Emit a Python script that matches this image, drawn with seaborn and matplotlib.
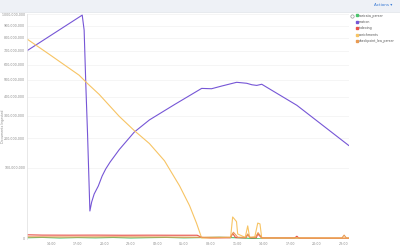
import numpy as np
import pandas as pd
import matplotlib
matplotlib.use("Agg")
import matplotlib.pyplot as plt
import matplotlib.dates as mdates
from matplotlib.lines import Line2D
from matplotlib.patches import Rectangle
from matplotlib.ticker import FuncFormatter, FixedLocator
import seaborn as sns

# ---------------- data ----------------
series_names = ["suricata_parser", "matron", "indexing", "enrichments", "checkpoint_lea_parser"]
series_colors = ["#4cc46e", "#7656d6", "#e8524a", "#f7c464", "#e99a52"]

matron_time = ["2021-03-01 11:17", "2021-03-01 17:31", "2021-03-01 17:44", "2021-03-01 17:56",
               "2021-03-01 18:07", "2021-03-01 18:23", "2021-03-01 18:35", "2021-03-01 18:52",
               "2021-03-01 19:20", "2021-03-01 19:46", "2021-03-01 20:10", "2021-03-01 20:40",
               "2021-03-01 21:10", "2021-03-01 21:42", "2021-03-01 23:24",
               "2021-03-02 01:06", "2021-03-02 03:56", "2021-03-02 07:00", "2021-03-02 08:07",
               "2021-03-02 09:15", "2021-03-02 10:57", "2021-03-02 12:05", "2021-03-02 12:40",
               "2021-03-02 13:13", "2021-03-02 13:47", "2021-03-02 17:45", "2021-03-02 23:38"]
matron_vals = [700e6, 990e6, 862e6, 454e6, 220e6, 15.5e6, 27e6, 40e6, 55.5e6, 78.4e6, 96.8e6,
               117e6, 136e6, 158e6, 226e6, 280e6, 357e6, 448e6, 446e6, 462e6, 485e6, 479e6,
               470e6, 466e6, 473e6, 353e6, 172e6]

enrich_time = ["2021-03-01 11:17", "2021-03-01 13:46", "2021-03-01 17:10", "2021-03-01 18:05",
               "2021-03-01 19:26", "2021-03-01 21:42", "2021-03-01 23:24", "2021-03-02 01:06",
               "2021-03-02 02:48", "2021-03-02 04:30", "2021-03-02 05:38", "2021-03-02 06:25",
               "2021-03-02 07:00", "2021-03-02 10:16", "2021-03-02 10:30", "2021-03-02 10:56",
               "2021-03-02 11:04", "2021-03-02 11:55", "2021-03-02 12:12", "2021-03-02 12:25",
               "2021-03-02 13:00", "2021-03-02 13:20", "2021-03-02 13:35", "2021-03-02 13:47",
               "2021-03-02 23:38"]
enrich_vals = [790e6, 675e6, 530e6, 479e6, 413e6, 297e6, 232e6, 180e6, 121e6, 56e6, 22e6, 5e6,
               0.02e6, 0.05e6, 9.6e6, 6e6, 0.5e6, 0.05e6, 3.4e6, 0.05e6, 0.1e6, 5e6, 4.5e6,
               0.02e6, 0.02e6]

indexing_time = ["2021-03-01 11:17", "2021-03-01 13:00", "2021-03-01 16:00", "2021-03-01 19:00",
                 "2021-03-01 22:00", "2021-03-02 01:00", "2021-03-02 04:00", "2021-03-02 06:30",
                 "2021-03-02 07:00", "2021-03-02 08:00", "2021-03-02 10:15", "2021-03-02 10:30",
                 "2021-03-02 10:50", "2021-03-02 12:00", "2021-03-02 12:12", "2021-03-02 12:30",
                 "2021-03-02 13:10", "2021-03-02 13:20", "2021-03-02 13:47", "2021-03-02 17:30",
                 "2021-03-02 17:45", "2021-03-02 18:00", "2021-03-02 23:38"]
indexing_vals = [350e3, 300e3, 290e3, 300e3, 280e3, 290e3, 280e3, 280e3, 50e3, 20e3, 30e3, 600e3,
                 40e3, 30e3, 400e3, 30e3, 30e3, 500e3, 20e3, 20e3, 150e3, 10e3, 10e3]

suricata_time = ["2021-03-01 11:17", "2021-03-01 13:00", "2021-03-01 15:00", "2021-03-01 17:00",
                 "2021-03-01 19:00", "2021-03-01 21:00", "2021-03-01 23:00", "2021-03-02 01:00",
                 "2021-03-02 03:00", "2021-03-02 05:00", "2021-03-02 07:00", "2021-03-02 09:00",
                 "2021-03-02 11:00", "2021-03-02 14:00", "2021-03-02 23:38"]
suricata_vals = [30e3, 50e3, 20e3, 40e3, 25e3, 45e3, 20e3, 35e3, 50e3, 25e3, 40e3, 60e3,
                 30e3, 0, 0]

checkpoint_time = ["2021-03-01 11:17", "2021-03-01 16:00", "2021-03-01 21:00", "2021-03-02 02:00",
                   "2021-03-02 07:00", "2021-03-02 10:16", "2021-03-02 10:35", "2021-03-02 11:04",
                   "2021-03-02 12:00", "2021-03-02 12:12", "2021-03-02 12:25", "2021-03-02 13:05",
                   "2021-03-02 13:22", "2021-03-02 13:47", "2021-03-02 22:50", "2021-03-02 23:05",
                   "2021-03-02 23:20", "2021-03-02 23:38"]
checkpoint_vals = [90e3, 80e3, 90e3, 80e3, 60e3, 60e3, 900e3, 60e3, 50e3, 500e3, 50e3, 50e3,
                   800e3, 30e3, 20e3, 300e3, 20e3, 20e3]

y_ticks = [0, 100e6, 200e6, 300e6, 400e6, 500e6, 600e6, 700e6, 800e6, 900e6, 1000e6]
y_label = "Documents Ingested"

# ---------------- frame ----------------
parts = []
for name, t, v in [("suricata_parser", suricata_time, suricata_vals),
                   ("matron", matron_time, matron_vals),
                   ("indexing", indexing_time, indexing_vals),
                   ("enrichments", enrich_time, enrich_vals),
                   ("checkpoint_lea_parser", checkpoint_time, checkpoint_vals)]:
    parts.append(pd.DataFrame({"time": pd.to_datetime(t), "value": v, "series": name}))
df = pd.concat(parts, ignore_index=True)
palette = dict(zip(series_names, series_colors))

sns.set_theme(style="white")
plt.rcParams["font.family"] = ["DejaVu Sans"]

W, H = 400, 246
fig = plt.figure(figsize=(W / 100, H / 100), dpi=100)
fig.patch.set_facecolor("white")

# header bar
fig.add_artist(Rectangle((0, 1 - 12 / H), 1, 12 / H, transform=fig.transFigure,
                         facecolor="#eef1f6", edgecolor="none", zorder=0))
fig.add_artist(Line2D([0, 1], [1 - 12 / H, 1 - 12 / H], transform=fig.transFigure,
                      color="#dde1e8", lw=0.5))
fig.text(392 / W, 1 - 5.5 / H, "Actions \u25be", color="#3a7bd5", fontsize=3,
         ha="right", va="center")

ax = fig.add_axes([27 / W, 1 - 239 / H, (349 - 27) / W, (239 - 14) / H])
ax.set_yscale("function", functions=(lambda x: np.sqrt(np.clip(x, 0, None)),
                                      lambda x: np.square(x)))

sns.lineplot(data=df, x="time", y="value", hue="series", hue_order=series_names,
             palette=palette, linewidth=0.8, legend=False, ax=ax, estimator=None,
             sort=True)

ax.set_xlim(pd.Timestamp("2021-03-01 11:17"), pd.Timestamp("2021-03-02 23:38"))
ax.set_ylim(0, 1e9)
ax.yaxis.set_major_locator(FixedLocator(y_ticks))
ax.yaxis.set_major_formatter(FuncFormatter(lambda v, p: f"{int(round(v)):,}"))
ax.xaxis.set_major_locator(mdates.HourLocator(byhour=[2, 5, 8, 11, 14, 17, 20, 23]))
ax.xaxis.set_major_formatter(mdates.DateFormatter("%H:%M"))
ax.tick_params(axis="both", length=0, labelsize=2.3, labelcolor="#8a8a8a")
ax.tick_params(axis="y", pad=1.2)
ax.tick_params(axis="x", pad=2.5)
ax.grid(axis="y", color="#f1f1f1", lw=0.5)
ax.set_xlabel("")
ax.set_ylabel(y_label, fontsize=2.3, color="#8a8a8a", labelpad=2)
ax.yaxis.set_label_coords(-22 / (349 - 27), 0.5)
for s in ["top", "right", "bottom"]:
    ax.spines[s].set_visible(False)
ax.spines["left"].set_color("#e4e4e4")
ax.spines["left"].set_linewidth(0.6)
ax.axvline(pd.Timestamp("2021-03-02 23:38"), color="#f3c4c4", lw=0.7)

# legend on the right
handles = [Line2D([], [], linestyle="none", marker="s", markersize=2.0,
                  markerfacecolor=c, markeredgecolor=c) for c in series_colors]
leg = ax.legend(handles, series_names, loc="upper left",
                bbox_to_anchor=(356 / W, 1 - 13.5 / H), bbox_transform=fig.transFigure,
                frameon=False, fontsize=2.3, handlelength=0.5, handletextpad=0.4,
                labelspacing=0.75, borderaxespad=0, borderpad=0)
for txt in leg.get_texts():
    txt.set_color("#555555")
fig.add_artist(Line2D([352 / W], [1 - 16 / H], transform=fig.transFigure, marker="o",
                      markersize=2.4, markerfacecolor="white", markeredgecolor="#999999",
                      markeredgewidth=0.5, linestyle="none"))

fig.savefig("out.png", dpi=100, facecolor="white")
